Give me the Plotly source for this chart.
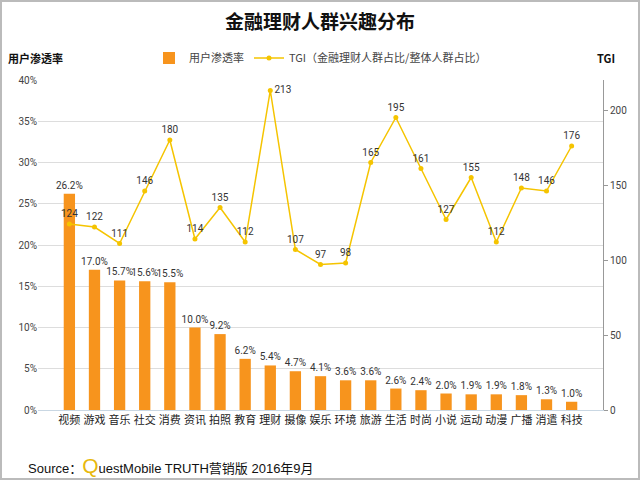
import plotly.graph_objects as go

categories = ["视频", "游戏", "音乐", "社交", "消费", "资讯", "拍照", "教育", "理财", "摄像", "娱乐",
              "环境", "旅游", "生活", "时尚", "小说", "运动", "动漫", "广播", "消遣", "科技"]
penetration = [26.2, 17.0, 15.7, 15.6, 15.5, 10.0, 9.2, 6.2, 5.4, 4.7, 4.1,
               3.6, 3.6, 2.6, 2.4, 2.0, 1.9, 1.9, 1.8, 1.3, 1.0]
tgi = [124, 122, 111, 146, 180, 114, 135, 112, 213, 107, 97,
       98, 165, 195, 161, 127, 155, 112, 148, 146, 176]

W, H = 640, 480
ML, MR, MT, MB = 38, 37, 80, 70
pw, ph = W - ML - MR, H - MT - MB

def px(x):
    return (x - ML) / pw

def py(y):
    return 1 - (y - MT) / ph

FONT = "Noto Sans CJK SC, DejaVu Sans, sans-serif"
NUMFONT = "Roboto, Noto Sans, sans-serif"
BAR_C = "#F7941D"
LINE_C = "#F5C400"

line_pos = ["top center"] * len(tgi)
line_pos[tgi.index(max(tgi))] = "middle right"

fig = go.Figure()
fig.add_trace(go.Bar(
    x=categories, y=penetration, name="用户渗透率",
    marker=dict(color=BAR_C, line=dict(width=0)),
    texttemplate="%{y:.1f}%", textposition="outside", constraintext="none",
    textfont=dict(size=10, color="#333333", family=NUMFONT), cliponaxis=False,
))
fig.add_trace(go.Scatter(
    x=categories, y=tgi, name="TGI（金融理财人群占比/整体人群占比）", yaxis="y2",
    mode="lines+markers+text", line=dict(color=LINE_C, width=1.5),
    marker=dict(color=LINE_C, size=5), text=[str(v) for v in tgi],
    textposition=line_pos, textfont=dict(size=10, color="#333333", family=NUMFONT), cliponaxis=False,
))

fig.update_layout(
    width=W, height=H, margin=dict(l=ML, r=MR, t=MT, b=MB),
    paper_bgcolor="white", plot_bgcolor="white",
    font=dict(family=FONT, size=11, color="#333333"),
    bargap=0.55, showlegend=True,
    legend=dict(orientation="h", x=0.5, xanchor="center", y=py(58), yanchor="middle",
                font=dict(size=11, color="#444444"), itemwidth=30, bgcolor="rgba(0,0,0,0)"),
    xaxis=dict(showgrid=False, showline=True, linecolor="#C9D7E3", linewidth=1,
               ticks="", tickfont=dict(size=11, color="#222222"), fixedrange=True),
    yaxis=dict(range=[0, 40], dtick=5, ticksuffix="%", showgrid=True, gridcolor="#DDDDDD",
               gridwidth=1, zeroline=False, showline=False,
               tickfont=dict(size=10, color="#444444", family=NUMFONT)),
    yaxis2=dict(range=[0, 220], tickvals=[0, 50, 100, 150, 200], overlaying="y", side="right",
                showgrid=False, zeroline=False, showline=True, linecolor="#999999", linewidth=1,
                ticks="outside", ticklen=4, tickcolor="#999999",
                tickfont=dict(size=10, color="#444444", family=NUMFONT)),
    title=dict(text="<b>金融理财人群兴趣分布</b>", x=0.5, xanchor="center", y=1 - 22 / H,
               yanchor="middle", font=dict(size=19, color="#111111", family=FONT)),
)

fig.add_annotation(xref="paper", yref="paper", x=px(6), y=py(58), xanchor="left", yanchor="middle",
                   text="<b>用户渗透率</b>", showarrow=False, font=dict(size=11, color="#111111"))
fig.add_annotation(xref="paper", yref="paper", x=px(617), y=py(58), xanchor="right", yanchor="middle",
                   text="<b>TGI</b>", showarrow=False, font=dict(size=11, color="#111111"))
fig.add_annotation(xref="paper", yref="paper", x=px(26), y=py(465), xanchor="left", yanchor="middle",
                   text="Source：<span style='font-size:21px;color:#E8B80C'>Q</span>uestMobile TRUTH营销版 2016年9月",
                   showarrow=False, font=dict(size=13, color="#111111", family="Liberation Sans, Noto Sans CJK SC, sans-serif"))

fig.add_shape(type="rect", xref="paper", yref="paper", x0=px(1), x1=px(W - 1), y0=py(1), y1=py(H - 1),
              line=dict(color="#BBBBBB", width=2), fillcolor="rgba(0,0,0,0)", layer="above")

fig.write_html("out.html", config={"displayModeBar": False},
               post_script="document.body.style.margin='0';document.body.style.overflow='hidden';")
